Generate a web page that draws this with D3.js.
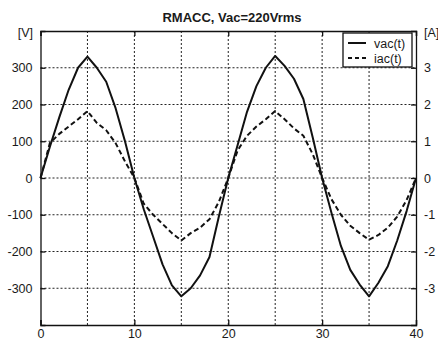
<!DOCTYPE html>
<html><head><meta charset="utf-8">
<script src="https://cdn.jsdelivr.net/npm/d3@7"></script>
<style>
html,body{margin:0;padding:0;background:#fff;}
text{font-family:"Liberation Sans",Arial,sans-serif;fill:#1a1a1a;}
</style></head>
<body><svg id="c" width="438" height="343"></svg>
<script>
const title = "RMACC, Vac=220Vrms";
const timeVals = d3.range(0, 41);
const vacVals = [0,85,165,240,300,330,300,262,190,100,
  0,-85,-160,-235,-292,-322,-300,-265,-215,-105,
  0,90,180,250,300,332,305,270,215,110,
  0,-95,-185,-250,-290,-322,-285,-240,-170,-90,0];
const iacVals = [0,0.95,1.2,1.4,1.6,1.82,1.5,1.3,0.95,0.45,
  0,-0.7,-1.0,-1.25,-1.5,-1.7,-1.5,-1.35,-1.12,-0.65,
  0,0.75,1.15,1.4,1.6,1.82,1.6,1.35,1.15,0.65,
  0,-0.58,-1.0,-1.3,-1.5,-1.68,-1.55,-1.35,-1.05,-0.6,0];
const xTicks = [0,10,20,30,40];
const xGrid = [5,10,15,20,25,30,35];
const vTicks = [-300,-200,-100,0,100,200,300];
const aTicks = [-3,-2,-1,0,1,2,3];
const legendLabels = ["vac(t)","iac(t)"];

const svg = d3.select("#c");
const L=40.5, R=416, T=31, B=325;
const x = d3.scaleLinear().domain([0,40]).range([L,R]);
const yV = d3.scaleLinear().domain([-400,400]).range([B,T]);
const yA = d3.scaleLinear().domain([-4,4]).range([B,T]);

// grid
const g = svg.append("g").attr("stroke","#222").attr("stroke-width",1).attr("stroke-dasharray","2,2");
g.selectAll("line.gx").data(xGrid).join("line").attr("x1",d=>x(d)).attr("x2",d=>x(d)).attr("y1",T).attr("y2",B);
g.selectAll("line.gy").data(vTicks).join("line").attr("x1",L).attr("x2",R).attr("y1",d=>yV(d)).attr("y2",d=>yV(d));

// axes
const fmt = d => String(d);
const axB = d3.axisBottom(x).tickValues(xTicks).tickSize(-5).tickPadding(4).tickFormat(fmt);
const axT = d3.axisTop(x).tickValues(xTicks).tickSize(-5).tickFormat("");
const axL = d3.axisLeft(yV).tickValues(vTicks).tickSize(-5).tickPadding(8).tickFormat(fmt);
const axR = d3.axisRight(yA).tickValues(aTicks).tickSize(-5).tickPadding(8).tickFormat(fmt);
function styleAx(sel){
  sel.selectAll("path.domain").attr("stroke","#111").attr("stroke-width",1.3);
  sel.selectAll(".tick line").attr("stroke","#111").attr("stroke-width",1.3);
  sel.selectAll("text").attr("font-size",12.5).attr("font-family","Liberation Sans, Arial, sans-serif").attr("fill","#1a1a1a");
}
svg.append("g").attr("transform",`translate(0,${B})`).call(axB).call(styleAx);
svg.append("g").attr("transform",`translate(0,${T})`).call(axT).call(styleAx);
svg.append("g").attr("transform",`translate(${L},0)`).call(axL).call(styleAx);
svg.append("g").attr("transform",`translate(${R},0)`).call(axR).call(styleAx);

// lines
const vac = timeVals.map((t,i)=>[t,vacVals[i]]);
const iac = timeVals.map((t,i)=>[t,iacVals[i]]);
svg.append("path").datum(vac).attr("fill","none").attr("stroke","#111").attr("stroke-width",2)
  .attr("stroke-linejoin","round")
  .attr("d",d3.line().x(d=>x(d[0])).y(d=>yV(d[1])));
svg.append("path").datum(iac).attr("fill","none").attr("stroke","#111").attr("stroke-width",2)
  .attr("stroke-dasharray","5,3").attr("stroke-linejoin","round")
  .attr("d",d3.line().x(d=>x(d[0])).y(d=>yA(d[1])));

// title & units
svg.append("text").attr("x",232).attr("y",22).attr("text-anchor","middle")
  .attr("font-size",13).attr("font-weight","bold").text(title);
svg.append("text").attr("x",33).attr("y",37).attr("text-anchor","end").attr("font-size",12.5).text("[V]");
svg.append("text").attr("x",424).attr("y",37).attr("font-size",12.5).text("[A]");

// legend
const lg = svg.append("g");
lg.append("rect").attr("x",343).attr("y",33).attr("width",69).attr("height",34)
  .attr("fill","#fff").attr("stroke","#111").attr("stroke-width",1.3);
legendLabels.forEach((lab,i)=>{
  const yy = 43 + i*15;
  lg.append("line").attr("x1",348).attr("x2",366).attr("y1",yy).attr("y2",yy)
    .attr("stroke","#111").attr("stroke-width",2).attr("stroke-dasharray",i?"4,3":null);
  lg.append("text").attr("x",374).attr("y",yy+4.5).attr("font-size",12.5).text(lab);
});
</script></body></html>
